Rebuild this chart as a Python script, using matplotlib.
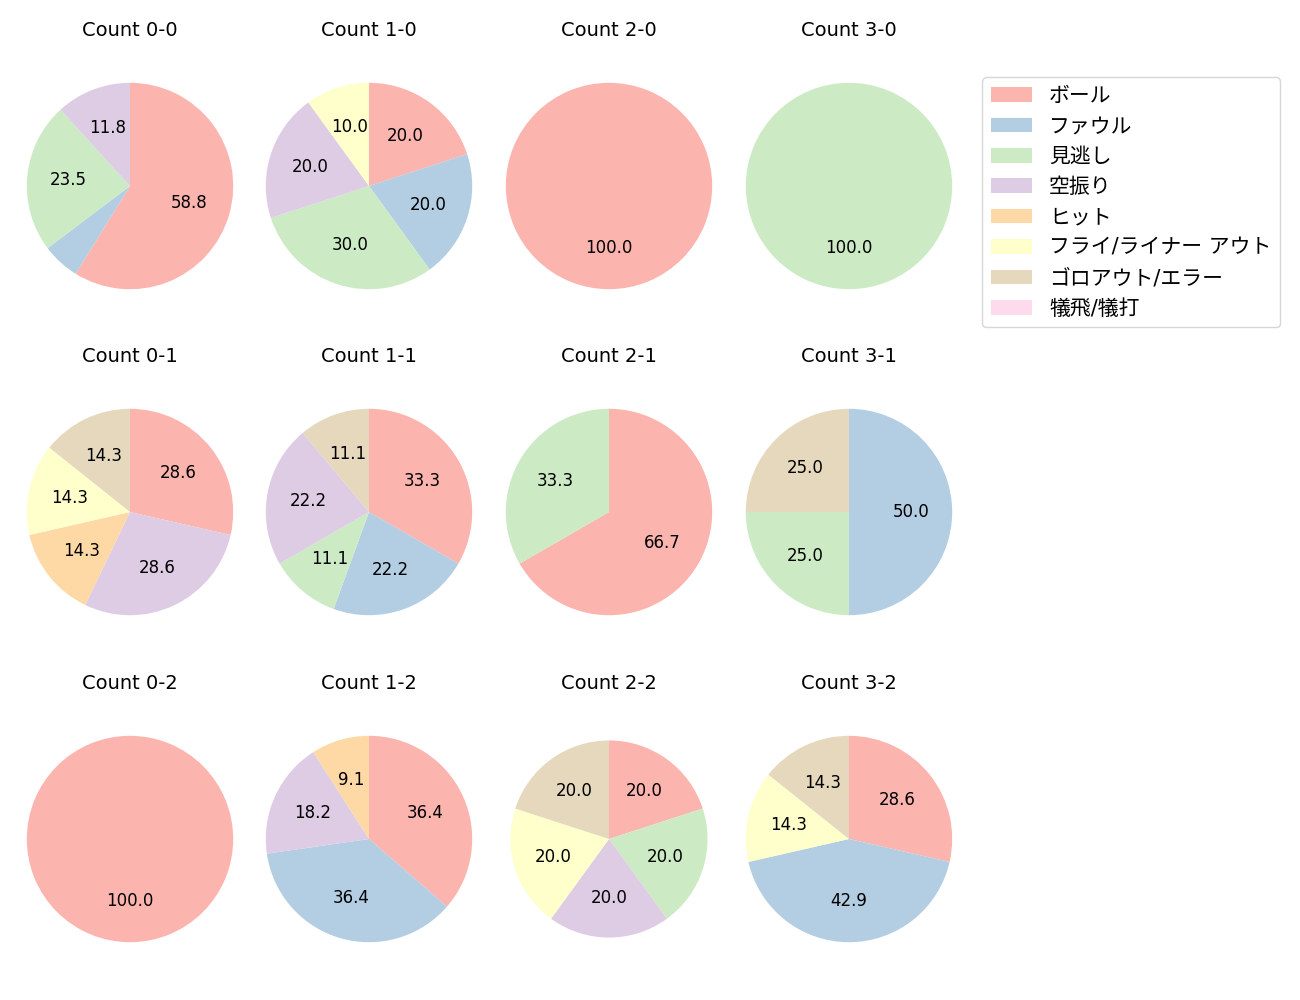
import numpy as np
import matplotlib.pyplot as plt
from matplotlib.patches import Patch

plt.rcParams['font.family'] = ['DejaVu Sans', 'Noto Sans CJK JP']

#---------- Data ----------#

categories = ['ボール', 'ファウル', '見逃し', '空振り', 'ヒット',
              'フライ/ライナー アウト', 'ゴロアウト/エラー', '犠飛/犠打']

colors = ['#fbb4ae', '#b3cde3', '#ccebc5', '#decbe4',
          '#fed9a6', '#ffffcc', '#e5d8bd', '#fddaec']

counts_labels = ['0-0', '1-0', '2-0', '3-0',
                 '0-1', '1-1', '2-1', '3-1',
                 '0-2', '1-2', '2-2', '3-2']

c00 = [10, 1, 4, 2, 0, 0, 0, 0]
c10 = [2, 2, 3, 2, 0, 1, 0, 0]
c20 = [1, 0, 0, 0, 0, 0, 0, 0]
c30 = [0, 0, 1, 0, 0, 0, 0, 0]
c01 = [2, 0, 0, 2, 1, 1, 1, 0]
c11 = [3, 2, 1, 2, 0, 0, 1, 0]
c21 = [2, 0, 1, 0, 0, 0, 0, 0]
c31 = [0, 2, 1, 0, 0, 0, 1, 0]
c02 = [1, 0, 0, 0, 0, 0, 0, 0]
c12 = [4, 4, 0, 2, 1, 0, 0, 0]
c22 = [1, 0, 1, 1, 0, 1, 1, 0]
c32 = [2, 3, 0, 0, 0, 1, 1, 0]

values = [c00, c10, c20, c30, c01, c11, c21, c31, c02, c12, c22, c32]

#---------- Plot ----------#

W, H = 1300, 1000
fig = plt.figure(figsize=(13, 10), dpi=100)

col_cx = [130, 369, 609, 849]
row_cy = [186, 512, 839]
s = 258  # axes size in px

def autopct(p):
    return f'{p:.1f}' if p > 7 else ''

for i, (lab, v) in enumerate(zip(counts_labels, values)):
    r, c = divmod(i, 4)
    cx, cy = col_cx[c], row_cy[r]
    ax = fig.add_axes([(cx - s / 2) / W, 1 - (cy + s / 2) / H, s / W, s / H])
    rad = 0.955 if lab == '2-2' else 1.0  # this one is drawn a bit smaller
    ax.pie(v, colors=colors, startangle=90, counterclock=False,
           autopct=autopct, pctdistance=0.6, radius=rad,
           textprops={'fontsize': 12})
    ax.set_xlim(-1.25, 1.25)
    ax.set_ylim(-1.25, 1.25)
    ax.set_title('Count ' + lab, fontsize=14, pad=15)

handles = [Patch(facecolor=col, label=cat) for cat, col in zip(categories, colors)]
fig.legend(handles=handles, loc='upper left', bbox_to_anchor=(972 / W, 1 - 67 / H),
           fontsize=15, frameon=True, handlelength=2.0)

plt.savefig('out.png')
